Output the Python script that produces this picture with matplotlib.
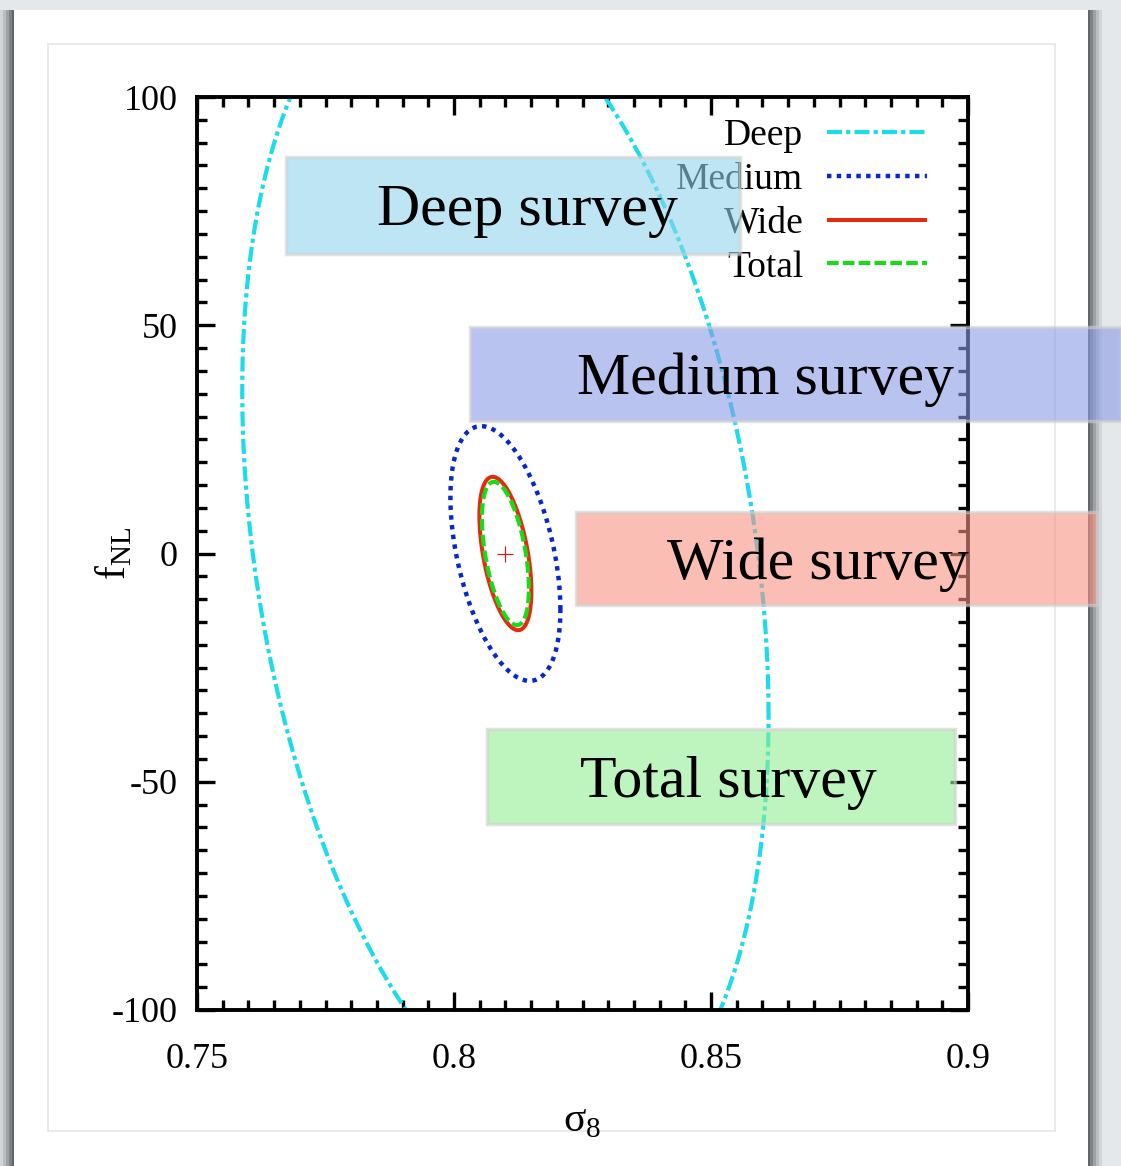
import numpy as np
import matplotlib.pyplot as plt
from matplotlib.patches import Rectangle

# Forecast contours: centre and 1-sigma ellipse parameters (sigma_8, f_NL)
surveys = ["Deep", "Medium", "Wide", "Total"]
centre_s8 = 0.81
centre_fnl = 0.0
sigma_s8 = [0.0512, 0.0107, 0.00506, 0.00457]
sigma_fnl = [127.7, 27.9, 16.8, 15.7]
rho = [-0.28, -0.44, -0.49, -0.49]

line_colors = ["#1cdcec", "#0a28c8", "#e42a10", "#18dc18"]
line_widths = [3.0, 3.2, 2.9, 3.0]
line_dashes = [(3.6, 1.0, 1.0, 1.0), (1.0, 1.2), None, (2.8, 1.0)]

# overlay banners: label, fill colour, box in pixels (x0, y0, x1, y1), text centre x
banner_text = ["Deep survey", "Medium survey", "Wide survey", "Total survey"]
banner_fill = ["#92d4eb", "#8a9be6", "#f79385", "#93ee93"]
banner_box = [(286, 157, 740, 254), (470, 327, 1121, 421),
              (576, 512, 1097, 605), (487, 729, 955, 824)]
banner_text_x = [527, 765, 818, 728]

W, H = 1121, 1166
plt.rcParams["font.family"] = ["Liberation Serif", "DejaVu Serif"]
plt.rcParams["mathtext.fontset"] = "custom"
plt.rcParams["mathtext.rm"] = "Liberation Serif"
plt.rcParams["axes.unicode_minus"] = False

fig = plt.figure(figsize=(W / 100, H / 100), dpi=100, facecolor="#e5e8ea")


def fx(x):
    return x / W


def fy(y):
    return 1 - y / H


def px_rect(x0, y0, x1, y1, **kw):
    return Rectangle((fx(x0), fy(y1)), fx(x1) - fx(x0), fy(y0) - fy(y1),
                     transform=fig.transFigure, **kw)


# slide card with a soft shadow, kept behind the axes
for i, a in enumerate([0.10, 0.14, 0.2, 0.28, 0.36]):
    d = 14 - 3 * i
    fig.patches.append(px_rect(14 - d, 10, 1088 + d, H + 5, facecolor="#303438",
                               alpha=a, edgecolor="none", zorder=-3))
fig.patches.append(px_rect(14, 10, 1088, H + 5, facecolor="white",
                           edgecolor="none", zorder=-2))
fig.patches.append(px_rect(48, 44, 1055, 1131, facecolor="none",
                           edgecolor="#e6e6e6", linewidth=1.2, zorder=-1))

ax = fig.add_axes([fx(197), fy(1010), fx(968) - fx(197), fy(97) - fy(1010)])
ax.set_zorder(1)
ax.patch.set_alpha(0)
ax.set_xlim(0.75, 0.9)
ax.set_ylim(-100, 100)

t = np.linspace(0, 2 * np.pi, 400)
for name, sx, sy, r, c, lw, ds in zip(surveys, sigma_s8, sigma_fnl, rho,
                                      line_colors, line_widths, line_dashes):
    cov = np.array([[sx * sx, r * sx * sy], [r * sx * sy, sy * sy]])
    L = np.linalg.cholesky(cov)
    pts = L @ np.vstack([np.cos(t), np.sin(t)])
    line, = ax.plot(centre_s8 + pts[0], centre_fnl + pts[1], color=c,
                    lw=lw, label=name, solid_capstyle="butt")
    if ds is not None:
        line.set_dashes(ds)

ax.plot([centre_s8], [centre_fnl], marker="+", color="#d02020", ms=11, mew=0.9)

ax.set_xticks([0.75, 0.8, 0.85, 0.9])
ax.set_xticklabels(["0.75", "0.8", "0.85", "0.9"])
ax.set_yticks([-100, -50, 0, 50, 100])
ax.set_xticks(np.arange(0.75, 0.9001, 0.005), minor=True)
ax.set_yticks(np.arange(-100, 100.1, 5), minor=True)
ax.tick_params(which="both", direction="in", top=True, right=True,
               width=2.4, labelsize=26)
ax.tick_params(which="major", length=13)
ax.tick_params(which="minor", length=7)
ax.tick_params(axis="x", pad=24)
ax.tick_params(axis="y", pad=14)
for sp in ax.spines.values():
    sp.set_linewidth(2.8)

ax.set_xlabel(r"$\mathrm{σ}_8$", fontsize=30)
ax.set_ylabel(r"$\mathrm{f}_{\mathrm{NL}}$", fontsize=30)
ax.xaxis.set_label_coords(0.5, -0.1)
ax.yaxis.set_label_coords(-0.082, 0.5)

ax.legend(loc="upper right", bbox_to_anchor=(0.9715, 0.997), frameon=False,
          markerfirst=False, fontsize=27, handlelength=2.67, borderpad=0,
          handletextpad=0.64, labelspacing=0.25)

for label, fc, (x0, y0, x1, y1), tx in zip(banner_text, banner_fill,
                                           banner_box, banner_text_x):
    fig.patches.append(px_rect(x0, y0, x1, y1, facecolor=fc, alpha=0.6,
                               edgecolor="#d0d0d0", linewidth=2.5, zorder=5))
    fig.text(fx(tx), fy((y0 + y1) / 2 + 6), label,
             fontsize=43, ha="center", va="center", zorder=6)

fig.savefig("out.png", dpi=100, facecolor=fig.get_facecolor())
